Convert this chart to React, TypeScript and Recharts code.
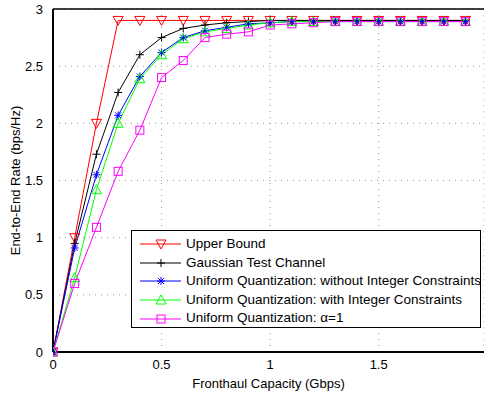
import { LineChart, Line, XAxis, YAxis, CartesianGrid, ReferenceLine } from "recharts";

const capacity = [0, 0.1, 0.2, 0.3, 0.4, 0.5, 0.6, 0.7, 0.8, 0.9, 1.0, 1.1, 1.2, 1.3, 1.4, 1.5, 1.6, 1.7, 1.8, 1.9];
const upperBound = [0, 1.0, 2.0, 2.9, 2.9, 2.9, 2.9, 2.9, 2.9, 2.9, 2.9, 2.9, 2.9, 2.9, 2.9, 2.9, 2.9, 2.9, 2.9, 2.9];
const gaussian = [0, 0.95, 1.73, 2.27, 2.6, 2.75, 2.83, 2.86, 2.88, 2.89, 2.9, 2.9, 2.9, 2.9, 2.9, 2.9, 2.9, 2.9, 2.9, 2.9];
const uniformNoInt = [0, 0.91, 1.55, 2.07, 2.41, 2.62, 2.75, 2.81, 2.84, 2.87, 2.88, 2.89, 2.89, 2.89, 2.89, 2.89, 2.89, 2.89, 2.89, 2.89];
const uniformInt = [0, 0.65, 1.42, 2.0, 2.39, 2.6, 2.74, 2.8, 2.83, 2.86, 2.88, 2.89, 2.89, 2.89, 2.89, 2.89, 2.89, 2.89, 2.89, 2.89];
const uniformAlpha = [0, 0.6, 1.09, 1.58, 1.94, 2.4, 2.55, 2.75, 2.78, 2.8, 2.86, 2.87, 2.88, 2.89, 2.89, 2.89, 2.89, 2.89, 2.89, 2.89];

const xTicks = [0, 0.5, 1, 1.5];
const yTicks = [0, 0.5, 1, 1.5, 2, 2.5, 3];

const data = capacity.map((c, i) => ({
  c,
  upper: upperBound[i],
  gauss: gaussian[i],
  noInt: uniformNoInt[i],
  withInt: uniformInt[i],
  alpha: uniformAlpha[i],
}));

type MarkerKind = "tri-down" | "plus" | "star" | "tri-up" | "square";

const Marker = ({ kind, x, y, color }: { kind: MarkerKind; x: number; y: number; color: string }) => {
  switch (kind) {
    case "tri-down":
      return <polygon points={`${x - 5},${y - 4} ${x + 5},${y - 4} ${x},${y + 5}`} fill="none" stroke={color} strokeWidth={1} />;
    case "tri-up":
      return <polygon points={`${x - 5},${y + 4} ${x + 5},${y + 4} ${x},${y - 5}`} fill="none" stroke={color} strokeWidth={1} />;
    case "plus":
      return (
        <g stroke={color} strokeWidth={1}>
          <line x1={x - 4} y1={y} x2={x + 4} y2={y} />
          <line x1={x} y1={y - 4} x2={x} y2={y + 4} />
        </g>
      );
    case "star":
      return (
        <g stroke={color} strokeWidth={1}>
          <line x1={x - 4} y1={y} x2={x + 4} y2={y} />
          <line x1={x} y1={y - 4} x2={x} y2={y + 4} />
          <line x1={x - 3} y1={y - 3} x2={x + 3} y2={y + 3} />
          <line x1={x - 3} y1={y + 3} x2={x + 3} y2={y - 3} />
        </g>
      );
    case "square":
      return <rect x={x - 4} y={y - 4} width={8} height={8} fill="none" stroke={color} strokeWidth={1} />;
  }
  return null;
};

const seriesList: { key: string; name: string; color: string; kind: MarkerKind }[] = [
  { key: "upper", name: "Upper Bound", color: "#ff0000", kind: "tri-down" },
  { key: "gauss", name: "Gaussian Test Channel", color: "#000000", kind: "plus" },
  { key: "noInt", name: "Uniform Quantization: without Integer Constraints", color: "#0000ff", kind: "star" },
  { key: "withInt", name: "Uniform Quantization: with Integer Constraints", color: "#00ff00", kind: "tri-up" },
  { key: "alpha", name: "Uniform Quantization: \u03b1=1", color: "#ff00ff", kind: "square" },
];

const fontFamily = "Liberation Sans, Arial, sans-serif";

const LegendBox = () => (
  <div
    style={{
      position: "absolute",
      left: 131,
      top: 230,
      width: 350,
      height: 98,
      boxSizing: "border-box",
      border: "1px solid #000",
      background: "#fff",
      padding: "4px 0",
      fontFamily,
      fontSize: 13.5,
      lineHeight: "18.6px",
    }}
  >
    {seriesList.map((s) => (
      <div key={s.key} style={{ display: "flex", alignItems: "center", height: 18.6 }}>
        <svg width={52} height={14} style={{ flex: "none" }}>
          <line x1={8} y1={7} x2={49} y2={7} stroke={s.color} strokeWidth={1} />
          <Marker kind={s.kind} x={29} y={7} color={s.color} />
        </svg>
        <span style={{ marginLeft: 2, whiteSpace: "nowrap" }}>{s.name}</span>
      </div>
    ))}
  </div>
);

export default function App() {
  const font = { fontFamily, fontSize: 13, fill: "#000" };
  return (
    <div style={{ position: "absolute", left: 0, top: 0, width: 484, height: 393 }}>
      <LineChart width={484} height={393} data={data} margin={{ top: 9, right: 0, bottom: 0, left: 0 }}>
        <CartesianGrid stroke="#999" strokeDasharray="1 5" />
        <XAxis
          dataKey="c"
          type="number"
          domain={[0, 1.985]}
          ticks={xTicks}
          allowDataOverflow
          height={41}
          tick={font}
          tickLine={false}
          tickMargin={2}
          axisLine={{ stroke: "#000", strokeWidth: 2 }}
          tickFormatter={(v) => String(v)}
          label={{ value: "Fronthaul Capacity (Gbps)", position: "insideBottom", offset: 5, style: font }}
        />
        <YAxis
          type="number"
          domain={[0, 3]}
          ticks={yTicks}
          width={53}
          tick={font}
          tickLine={false}
          tickMargin={4}
          axisLine={{ stroke: "#000", strokeWidth: 2 }}
          tickFormatter={(v) => String(v)}
          label={{ value: "End-to-End Rate (bps/Hz)", angle: -90, position: "insideLeft", offset: 15, style: { ...font, textAnchor: "middle" } }}
        />
        <ReferenceLine y={3} stroke="#000" strokeWidth={1.5} />
        {seriesList.map((s) => (
          <Line
            key={s.key}
            dataKey={s.key}
            name={s.name}
            stroke={s.color}
            strokeWidth={1}
            isAnimationActive={false}
            dot={(p: any) => <Marker key={`${s.key}-${p.index}`} kind={s.kind} x={p.cx} y={p.cy} color={s.color} />}
          />
        ))}
      </LineChart>
      <LegendBox />
    </div>
  );
}
